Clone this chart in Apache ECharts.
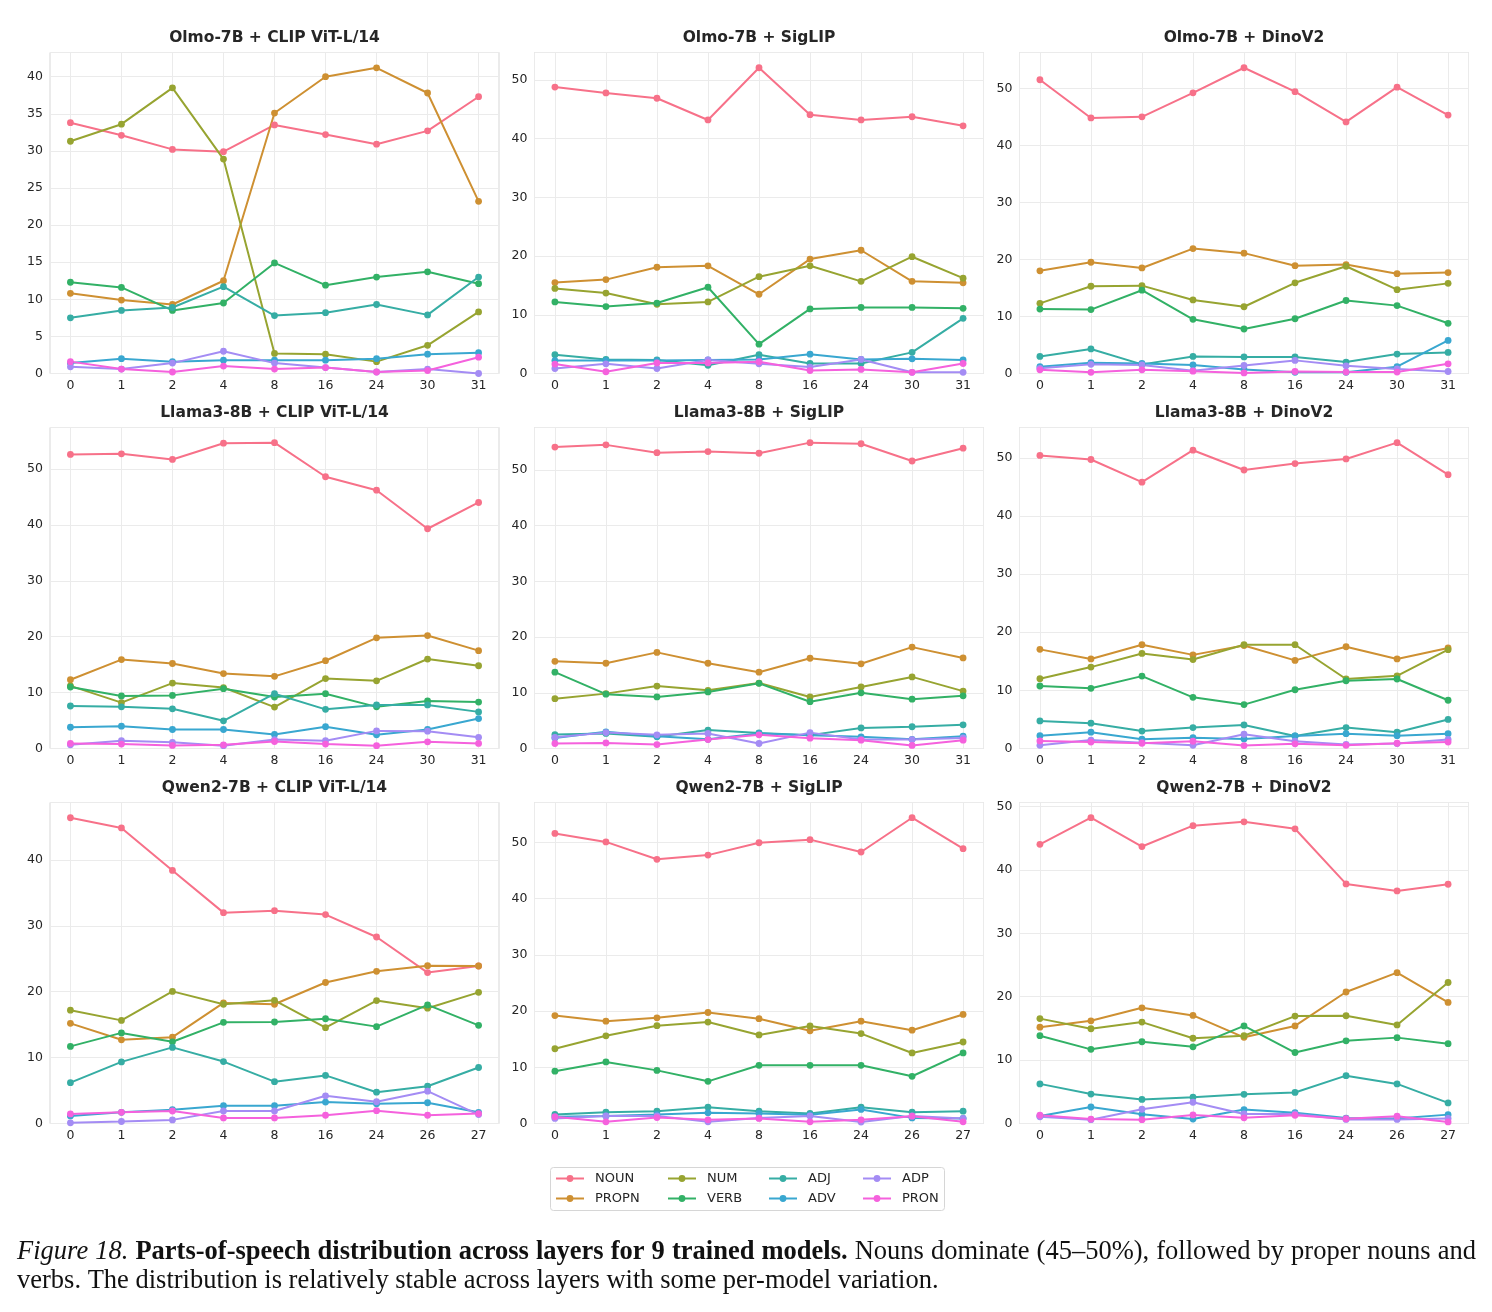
<!DOCTYPE html>
<html>
<head>
<meta charset="utf-8">
<script src="https://cdn.jsdelivr.net/npm/echarts@6/dist/echarts.min.js"></script>
<style>
  html, body { margin: 0; padding: 0; background: #fff; }
  #chart { width: 1492px; height: 1312px; }
</style>
</head>
<body>
<div id="chart"></div>
<script>
// parts of speech, in plotting order (seaborn husl palette)
const posNames = ['NOUN', 'PROPN', 'NUM', 'VERB', 'ADJ', 'ADV', 'ADP', 'PRON'];
const posColors = ['#f77189', '#ce9032', '#97a431', '#32b166', '#36ada4', '#39a7d0', '#a48cf4', '#f561dd'];

// layer tick labels
const layers32 = ['0', '1', '2', '4', '8', '16', '24', '30', '31'];
const layers28 = ['0', '1', '2', '4', '8', '16', '24', '26', '27'];

// rows follow posNames: NOUN, PROPN, NUM, VERB, ADJ, ADV, ADP, PRON (%)
const olmoClip = [
  [33.8, 32.1, 30.2, 29.9, 33.5, 32.2, 30.9, 32.7, 37.3],
  [10.8, 9.9, 9.3, 12.5, 35.1, 40.0, 41.2, 37.8, 23.2],
  [31.3, 33.6, 38.5, 28.9, 2.7, 2.6, 1.6, 3.8, 8.3],
  [12.3, 11.6, 8.5, 9.5, 14.9, 11.9, 13.0, 13.7, 12.1],
  [7.5, 8.5, 8.9, 11.7, 7.8, 8.2, 9.3, 7.9, 13.0],
  [1.4, 2.0, 1.6, 1.8, 1.8, 1.8, 2.0, 2.6, 2.8],
  [0.9, 0.6, 1.4, 3.0, 1.4, 0.8, 0.2, 0.6, 0.0],
  [1.6, 0.6, 0.2, 1.0, 0.6, 0.8, 0.2, 0.4, 2.2]
];
const olmoSiglip = [
  [48.8, 47.8, 46.9, 43.2, 52.1, 44.1, 43.2, 43.75, 42.2],
  [15.5, 16.0, 18.1, 18.35, 13.5, 19.5, 21.0, 15.7, 15.45],
  [14.5, 13.7, 11.8, 12.2, 16.5, 18.35, 15.7, 19.9, 16.25],
  [12.2, 11.4, 12.0, 14.7, 5.0, 11.0, 11.25, 11.25, 11.1],
  [3.2, 2.4, 2.3, 1.4, 3.2, 1.7, 1.7, 3.6, 9.4],
  [2.2, 2.2, 2.2, 2.3, 2.4, 3.3, 2.4, 2.5, 2.3],
  [0.85, 1.65, 0.85, 2.3, 1.65, 1.1, 2.4, 0.2, 0.2],
  [1.6, 0.3, 1.8, 1.8, 2.0, 0.5, 0.7, 0.2, 1.7]
];
const olmoDino = [
  [51.5, 44.8, 45.0, 49.2, 53.6, 49.4, 44.1, 50.2, 45.3],
  [18.0, 19.5, 18.5, 21.9, 21.1, 18.9, 19.1, 17.5, 17.7],
  [12.3, 15.3, 15.4, 12.9, 11.7, 15.9, 18.8, 14.7, 15.8],
  [11.3, 11.2, 14.6, 9.5, 7.8, 9.6, 12.8, 11.9, 8.8],
  [3.0, 4.3, 1.6, 3.0, 2.9, 2.9, 2.0, 3.4, 3.7],
  [1.2, 1.9, 1.75, 1.5, 0.7, 0.2, 0.2, 1.2, 5.8],
  [0.9, 1.6, 1.5, 0.5, 1.4, 2.3, 1.35, 0.8, 0.35],
  [0.65, 0.2, 0.65, 0.4, 0.1, 0.35, 0.25, 0.25, 1.7]
];
const llamaClip = [
  [52.6, 52.7, 51.7, 54.6, 54.7, 48.6, 46.2, 39.3, 44.0],
  [12.3, 15.9, 15.2, 13.4, 12.9, 15.7, 19.8, 20.2, 17.5],
  [11.2, 8.2, 11.7, 10.9, 7.4, 12.5, 12.1, 16.0, 14.8],
  [11.0, 9.4, 9.5, 10.7, 9.2, 9.8, 7.45, 8.5, 8.3],
  [7.6, 7.45, 7.1, 4.95, 9.8, 7.0, 7.8, 7.8, 6.55],
  [3.8, 4.0, 3.4, 3.4, 2.5, 3.9, 2.45, 3.4, 5.35],
  [0.65, 1.4, 1.1, 0.5, 1.6, 1.4, 3.15, 3.1, 2.0],
  [0.9, 0.8, 0.55, 0.65, 1.25, 0.8, 0.5, 1.2, 0.9]
];
const llamaSiglip = [
  [54.1, 54.5, 53.1, 53.3, 53.0, 54.9, 54.7, 51.6, 53.9],
  [15.65, 15.3, 17.25, 15.3, 13.7, 16.2, 15.2, 18.2, 16.25],
  [8.95, 9.85, 11.2, 10.45, 11.75, 9.25, 11.05, 12.85, 10.3],
  [13.7, 9.75, 9.25, 10.15, 11.7, 8.4, 10.0, 8.85, 9.45],
  [2.5, 2.7, 2.1, 3.3, 2.8, 2.4, 3.7, 3.9, 4.25],
  [1.9, 3.0, 2.2, 1.65, 2.7, 2.4, 2.1, 1.65, 2.2],
  [2.0, 2.85, 2.45, 2.7, 0.9, 2.85, 1.6, 1.6, 1.9],
  [0.9, 1.0, 0.7, 1.6, 2.45, 1.85, 1.5, 0.55, 1.5]
];
const llamaDino = [
  [50.4, 49.7, 45.8, 51.3, 47.9, 49.0, 49.8, 52.6, 47.1],
  [17.05, 15.4, 17.85, 16.1, 17.7, 15.15, 17.5, 15.4, 17.3],
  [12.0, 14.0, 16.35, 15.3, 17.85, 17.85, 11.95, 12.5, 17.0],
  [10.75, 10.35, 12.45, 8.8, 7.55, 10.1, 11.65, 11.95, 8.3],
  [4.75, 4.35, 3.0, 3.6, 4.05, 2.15, 3.6, 2.8, 5.0],
  [2.2, 2.8, 1.6, 1.85, 1.65, 2.15, 2.55, 2.2, 2.55],
  [0.55, 1.45, 1.0, 0.55, 2.45, 1.25, 0.7, 0.85, 1.55],
  [1.3, 1.1, 0.9, 1.25, 0.5, 0.8, 0.55, 0.9, 1.1]
];
const qwenClip = [
  [46.4, 44.85, 38.4, 32.0, 32.3, 31.7, 28.3, 22.9, 23.9],
  [15.2, 12.7, 13.1, 18.3, 18.1, 21.4, 23.1, 23.95, 23.9],
  [17.2, 15.65, 20.05, 18.1, 18.7, 14.55, 18.65, 17.5, 19.9],
  [11.7, 13.75, 12.4, 15.35, 15.4, 15.9, 14.7, 18.0, 14.9],
  [6.2, 9.35, 11.55, 9.4, 6.35, 7.3, 4.75, 5.65, 8.5],
  [1.15, 1.7, 2.1, 2.7, 2.7, 3.25, 3.0, 3.15, 1.7],
  [0.1, 0.3, 0.55, 1.9, 1.9, 4.2, 3.3, 4.9, 1.35],
  [1.45, 1.7, 1.9, 0.85, 0.85, 1.25, 1.95, 1.25, 1.5]
];
const qwenSiglip = [
  [51.6, 50.1, 47.0, 47.75, 49.95, 50.5, 48.3, 54.4, 48.9],
  [19.2, 18.2, 18.8, 19.75, 18.65, 16.5, 18.2, 16.6, 19.4],
  [13.3, 15.6, 17.4, 18.05, 15.75, 17.35, 16.0, 12.55, 14.5],
  [9.3, 10.95, 9.45, 7.5, 10.35, 10.35, 10.35, 8.4, 12.55],
  [1.6, 2.0, 2.2, 2.9, 2.2, 1.8, 2.9, 2.0, 2.2],
  [1.2, 1.35, 1.6, 1.9, 1.8, 1.55, 2.5, 1.0, 0.9],
  [0.9, 1.35, 1.35, 0.3, 1.0, 1.35, 0.25, 1.35, 0.9],
  [1.2, 0.3, 1.05, 0.65, 0.9, 0.3, 0.65, 1.3, 0.3]
];
const qwenDino = [
  [44.05, 48.25, 43.7, 47.0, 47.6, 46.5, 37.8, 36.7, 37.75],
  [15.2, 16.2, 18.25, 17.05, 13.6, 15.4, 20.75, 23.8, 19.1],
  [16.55, 14.95, 16.0, 13.45, 13.85, 16.95, 17.0, 15.55, 22.25],
  [13.85, 11.7, 12.9, 12.1, 15.4, 11.2, 13.05, 13.55, 12.6],
  [6.25, 4.65, 3.8, 4.15, 4.6, 4.9, 7.55, 6.25, 3.25],
  [1.2, 2.6, 1.45, 0.7, 2.2, 1.7, 0.85, 0.8, 1.4],
  [1.05, 0.6, 2.25, 3.35, 1.5, 1.5, 0.65, 0.65, 0.8],
  [1.3, 0.7, 0.6, 1.35, 0.9, 1.3, 0.75, 1.15, 0.25]
];

const panelTitles = [
  'Olmo-7B + CLIP ViT-L/14', 'Olmo-7B + SigLIP', 'Olmo-7B + DinoV2',
  'Llama3-8B + CLIP ViT-L/14', 'Llama3-8B + SigLIP', 'Llama3-8B + DinoV2',
  'Qwen2-7B + CLIP ViT-L/14', 'Qwen2-7B + SigLIP', 'Qwen2-7B + DinoV2'
];
const panelValues = [olmoClip, olmoSiglip, olmoDino, llamaClip, llamaSiglip, llamaDino, qwenClip, qwenSiglip, qwenDino];
const panelLayers = [layers32, layers32, layers32, layers32, layers32, layers32, layers28, layers28, layers28];
const yStep = [5, 10, 10, 10, 10, 10, 10, 10, 10];

// caption text
const capItalic = 'Figure 18.';
const capBold = 'Parts-of-speech distribution across layers for 9 trained models.';
const capRest = 'Nouns dominate (45\u201350%), followed by proper nouns and';
const capLine2 = 'verbs. The distribution is relatively stable across layers with some per-model variation.';

// layout
const colLeft = [50, 534.5, 1019.5];
const rowTop = [52.5, 427.5, 802.5];
const boxW = 449, boxH = 321;
const font = "'DejaVu Sans', sans-serif";
const ink = '#262626';

const grids = [], xAxes = [], yAxes = [], titles = [], series = [];

panelValues.forEach((vals, p) => {
  const r = Math.floor(p / 3), c = p % 3;
  const layers = panelLayers[p];
  const step = yStep[p];
  const all = vals.flat();
  const hi = Math.max(...all), lo = Math.min(...all);
  const yMax = hi + 0.05 * (hi - lo);

  grids.push({
    left: colLeft[c], top: rowTop[r], width: boxW, height: boxH,
    show: true, borderColor: '#d6d6d6', borderWidth: 1, backgroundColor: '#fff',
    containLabel: false, outerBoundsMode: 'none'
  });
  titles.push({
    text: panelTitles[p],
    left: colLeft[c] + boxW / 2, top: rowTop[r] - 23, textAlign: 'center', padding: 0,
    textStyle: { fontFamily: font, fontSize: 15.5, fontWeight: 'bold', color: ink }
  });
  xAxes.push({
    type: 'value', gridIndex: p,
    min: -0.4, max: layers.length - 1 + 0.4, minInterval: 1, maxInterval: 1,
    axisLine: { show: false }, axisTick: { show: false },
    splitLine: { show: true, lineStyle: { color: '#ebebeb', width: 1 } },
    axisLabel: {
      fontFamily: font, fontSize: 12.5, color: ink, margin: 6,
      showMinLabel: true, showMaxLabel: true, hideOverlap: false,
      formatter: v => {
        const i = Math.round(v);
        return Math.abs(v - i) < 1e-6 && layers[i] !== undefined ? layers[i] : '';
      }
    }
  });
  yAxes.push({
    type: 'value', gridIndex: p,
    min: 0, max: yMax, minInterval: step, maxInterval: step,
    axisLine: { show: false }, axisTick: { show: false },
    splitLine: { show: true, lineStyle: { color: '#ebebeb', width: 1 } },
    axisLabel: {
      fontFamily: font, fontSize: 12.5, color: ink, margin: 7,
      showMinLabel: true, showMaxLabel: true, hideOverlap: false,
      formatter: v => (Math.abs(v / step - Math.round(v / step)) < 1e-6 ? String(Math.round(v)) : '')
    }
  });
  vals.forEach((row, k) => {
    series.push({
      type: 'line', name: posNames[k], xAxisIndex: p, yAxisIndex: p,
      data: row.map((v, i) => [i, v]),
      color: posColors[k],
      symbol: 'circle', symbolSize: 6.8, showSymbol: true,
      lineStyle: { width: 2 },
      silent: true, animation: false
    });
  });
});

// legend: matplotlib fills 4 columns x 2 rows, column-major
const legendCol = [555, 667, 768, 862];
const legendRow = [1178.5, 1198.5];
const legends = posNames.map((name, k) => ({
  data: [name],
  left: legendCol[Math.floor(k / 2)],
  top: legendRow[k % 2] - 6.5,
  padding: 0,
  itemWidth: 28, itemHeight: 8.5,
  selectedMode: false,
  textStyle: { fontFamily: font, fontSize: 13, color: ink, padding: [0, 0, 0, 6] }
}));

// caption: first line justified between the margins, word by word
const serifName = 'Liberation Serif';
const capSize = 26.5;
const capLeft = 17, capRight = 1476;
const measureCtx = document.createElement('canvas').getContext('2d');
function wordWidth(w, style, weight) {
  measureCtx.font = style + ' ' + weight + ' ' + capSize + 'px "' + serifName + '"';
  return measureCtx.measureText(w).width;
}
const capWords = [];
capItalic.split(' ').forEach(w => capWords.push({ w, style: 'italic', weight: 'normal' }));
capBold.split(' ').forEach(w => capWords.push({ w, style: 'normal', weight: 'bold' }));
capRest.split(' ').forEach(w => capWords.push({ w, style: 'normal', weight: 'normal' }));
capWords.forEach(o => { o.width = wordWidth(o.w, o.style, o.weight); });
const wordsTotal = capWords.reduce((s, o) => s + o.width, 0);
const capGap = (capRight - capLeft - wordsTotal) / (capWords.length - 1);

const captionGraphics = [];
let cx = capLeft;
capWords.forEach(o => {
  captionGraphics.push({
    type: 'text', x: cx, y: 1252, silent: true,
    style: {
      text: o.w, fontFamily: serifName, fontSize: capSize, fontStyle: o.style, fontWeight: o.weight,
      fill: '#111', verticalAlign: 'middle', align: 'left'
    }
  });
  cx += o.width + capGap;
});
captionGraphics.push({
  type: 'text', x: capLeft, y: 1281, silent: true,
  style: { text: capLine2, fontFamily: serifName, fontSize: capSize, fill: '#111', verticalAlign: 'middle', align: 'left' }
});

const option = {
  backgroundColor: '#fff',
  animation: false,
  title: titles,
  legend: legends,
  grid: grids,
  xAxis: xAxes,
  yAxis: yAxes,
  series: series,
  graphic: [
    {
      type: 'rect', left: 550, top: 1167, z: -1,
      shape: { width: 394, height: 43, r: 3 },
      style: { fill: '#fff', stroke: '#d6d6d6', lineWidth: 1 }
    }
  ].concat(captionGraphics)
};

const chart = echarts.init(document.getElementById('chart'), null, { renderer: 'canvas' });
chart.setOption(option);
</script>
</body>
</html>
